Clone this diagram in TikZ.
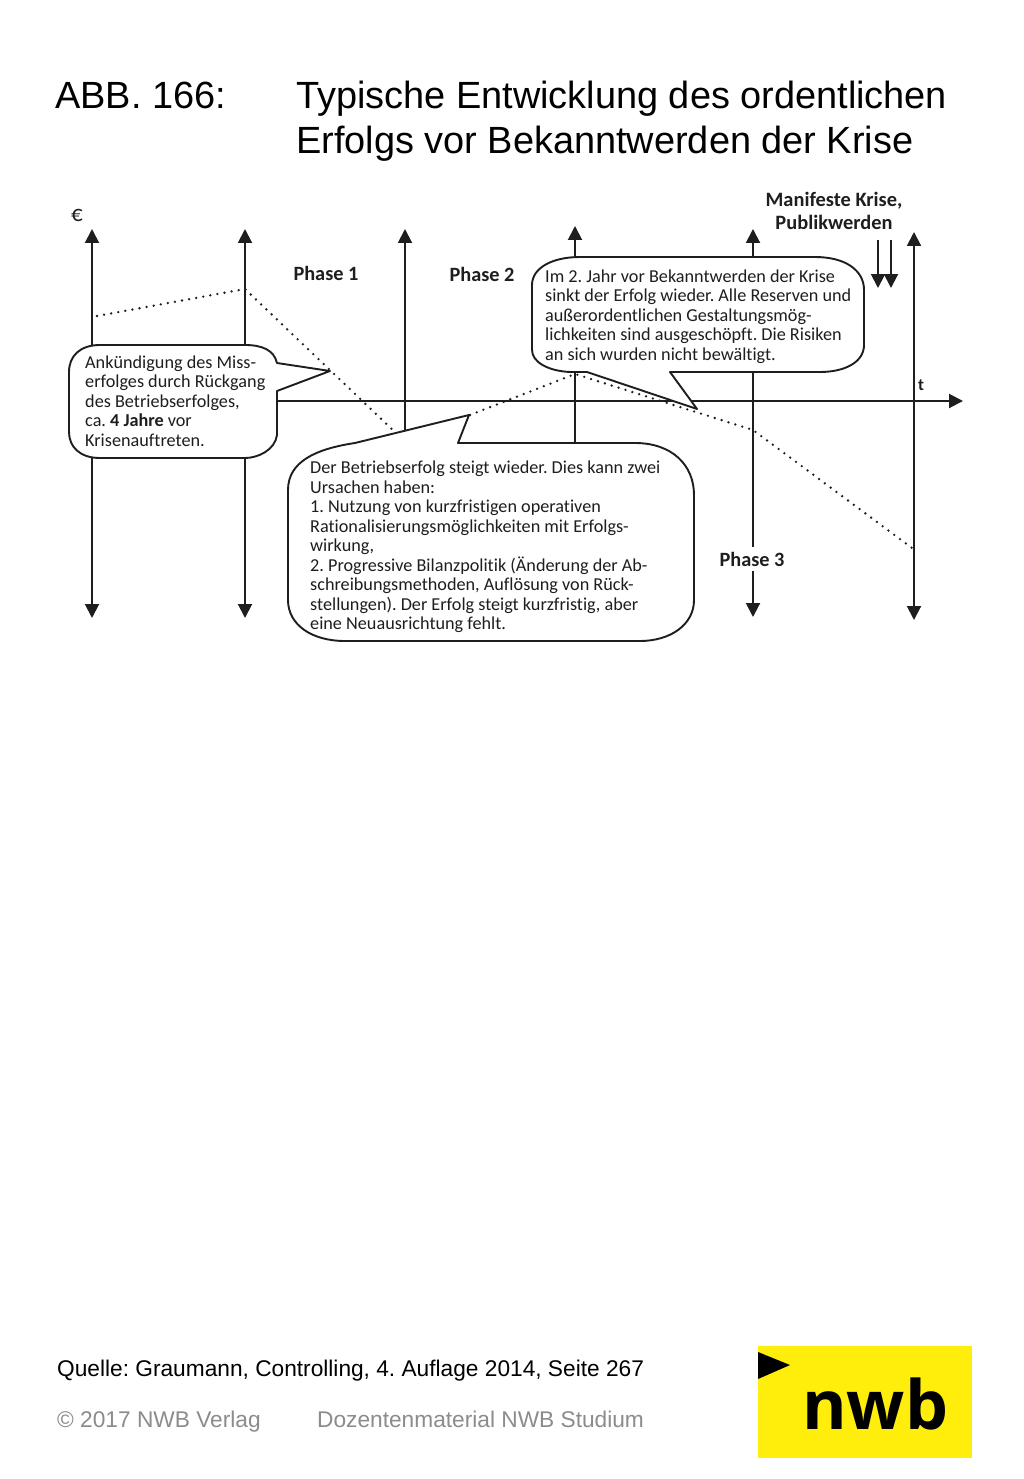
\documentclass[tikz,border=0pt]{standalone}
\usepackage{fontspec}
\setmainfont{Liberation Sans}
\newfontfamily\diafont[Ligatures=NoCommon]{Carlito}
\newfontfamily\logofont{Open Sans}
\usetikzlibrary{arrows.meta}
\definecolor{logoyellow}{HTML}{FFED0C}
\definecolor{footgray}{HTML}{8C8C8C}
\definecolor{inkdark}{HTML}{1E1E1E}
\tikzset{
  axisline/.style={line width=2pt,draw=inkdark,-{Triangle[length=14pt,width=14pt]}},
  dotline/.style={line width=2.6pt,draw=inkdark,line cap=round,dash pattern=on 0pt off 7.2pt},
  bubble/.style={line width=1.9pt,draw=inkdark,fill=white,line join=round},
  bubbletext/.style={inner sep=0pt,anchor=north west,align=left,text=inkdark,font=\diafont\fontsize{18.2}{19.5}\selectfont},
  phaselabel/.style={inner sep=1pt,text=inkdark,font=\diafont\bfseries\fontsize{20.3}{22}\selectfont},
  titletext/.style={inner sep=0pt,anchor=base west,align=left,font=\fontsize{37.9}{45}\selectfont},
  foottext/.style={inner sep=0pt,anchor=base west,font=\fontsize{22.7}{27}\selectfont},
}
\begin{document}
\frenchspacing
\begin{tikzpicture}[x=1pt,y=-1pt]
\useasboundingbox[fill=white] (0,0) rectangle (1024,1479);
% title
\node[titletext] (tnum) at (55,109) {ABB. 166:};
\node[titletext] (t1) at (296,109) {Typische Entwicklung des ordentlichen};
\node[titletext] (t2) at (296,154) {Erfolgs vor Bekanntwerden der Krise};
% axis ends
\foreach \n/\x/\yt/\yb in {a/92/229/618,b/245/229/618,e/914/232/620}{
  \coordinate (\n t) at (\x,\yt);
  \coordinate (\n b) at (\x,\yb);
  \draw[axisline,{Triangle[length=14pt,width=14pt]}-{Triangle[length=14pt,width=14pt]}] (\n t) -- (\n b);
}
\coordinate (ct) at (405,229); \coordinate (cb) at (405,440);
\draw[axisline] (cb) -- (ct);
\coordinate (dt) at (575,226); \coordinate (db) at (575,445);
\draw[axisline] (db) -- (dt);
\coordinate (xa) at (275,401); \coordinate (xb) at (963,401);
\draw[axisline] (xa) -- (xb);
% phase 3 axis, broken by its label
\coordinate (ft) at (753,229); \coordinate (fb) at (753,617);
\draw[axisline,{Triangle[length=14pt,width=14pt]}-{Triangle[length=14pt,width=14pt]}] (ft) -- (fb);
% result curve
\coordinate (p1) at (97,316); \coordinate (p2) at (245,289); \coordinate (p3) at (397,434);
\coordinate (p4) at (470,415); \coordinate (p5) at (575,374); \coordinate (p6) at (753,430); \coordinate (p7) at (912,548);
\draw[dotline] (p1) -- (p2) -- (p3);
\draw[dotline] (p4) -- (p5) -- (p6) -- (p7);
% bubbles
\draw[bubble] (100,345) -- (245,345)
  .. controls (262,345) and (274,350) .. (277,363)
  -- (330,371) -- (277,391) -- (277,435)
  .. controls (275,450) and (258,458) .. (245,458)
  -- (100,458) .. controls (80,458) and (69,447) .. (69,432)
  -- (69,372) .. controls (69,356) and (80,345) .. (100,345) -- cycle;
\draw[bubble] (355,443) -- (469,415) -- (458,443) -- (635,443)
  .. controls (672,443) and (694,465) .. (694,495)
  -- (694,600) .. controls (694,625) and (670,641) .. (640,641)
  -- (345,641) .. controls (312,641) and (288,625) .. (288,600)
  -- (288,490) .. controls (288,462) and (315,449) .. (355,443) -- cycle;
\draw[bubble] (580,257) -- (815,257)
  .. controls (845,257) and (864,270) .. (864,290)
  -- (864,345) .. controls (864,362) and (845,372) .. (820,372)
  -- (670,372) -- (697,409) -- (587,372) -- (570,372)
  .. controls (548,371) and (532,362) .. (532,350)
  -- (532,285) .. controls (532,268) and (552,257) .. (580,257) -- cycle;
% bubble texts
\node[bubbletext] (s1) at (85,355.5) {Ankündigung des Miss-\\erfolges durch Rückgang\\des Betriebserfolges,\\ca. \textbf{4 Jahre} vor\\Krisenauftreten.};
\node[bubbletext] (s2) at (310,461) {Der Betriebserfolg steigt wieder. Dies kann zwei\\Ursachen haben:\\1. Nutzung von kurzfristigen operativen\\Rationalisierungsmöglichkeiten mit Erfolgs-\\wirkung,\\2. Progressive Bilanzpolitik (Änderung der Ab-\\schreibungsmethoden, Auflösung von Rück-\\stellungen). Der Erfolg steigt kurzfristig, aber\\eine Neuausrichtung fehlt.};
\node[bubbletext] (s3) at (545,269.5) {Im 2. Jahr vor Bekanntwerden der Krise\\sinkt der Erfolg wieder. Alle Reserven und\\außerordentlichen Gestaltungsmög-\\lichkeiten sind ausgeschöpft. Die Risiken\\an sich wurden nicht bewältigt.};
% labels
\node[phaselabel] (ph1) at (326,273) {Phase 1};
\node[phaselabel] (ph2) at (482,274) {Phase 2};
\node[phaselabel,fill=white,inner ysep=5pt] (ph3) at (752,559) {Phase 3};
\node[inner sep=0pt,text=inkdark,font=\diafont\fontsize{23}{24}\selectfont] (euro) at (77,215) {€};
\node[inner sep=0pt,text=inkdark,font=\diafont\bfseries\fontsize{17}{18}\selectfont] (tlabel) at (921,385) {t};
\node[phaselabel,align=center,inner sep=0pt,font=\diafont\bfseries\fontsize{20.4}{23}\selectfont] (mk) at (834,211) {Manifeste Krise,\\Publikwerden};
% double arrows
\coordinate (m1) at (878,240); \coordinate (m1b) at (878,288);
\coordinate (m2) at (891,240); \coordinate (m2b) at (891,288);
\draw[axisline] (m1) -- (m1b);
\draw[axisline] (m2) -- (m2b);
% footer
\node[foottext] (q) at (57,1376) {Quelle: Graumann, Controlling, 4. Auflage 2014, Seite 267};
\node[foottext,text=footgray] (c1) at (57,1427) {© 2017 NWB Verlag};
\node[foottext,text=footgray] (c2) at (317,1427) {Dozentenmaterial NWB Studium};
% logo
\fill[logoyellow] (758,1346) rectangle (972,1458);
\fill[black] (758,1352) -- (790,1365) -- (758,1379) -- cycle;
\node[inner sep=0pt,anchor=base west,font=\logofont\bfseries\fontsize{68}{72}\selectfont] (nwb) at (802,1429) {nwb};
\end{tikzpicture}
\end{document}
